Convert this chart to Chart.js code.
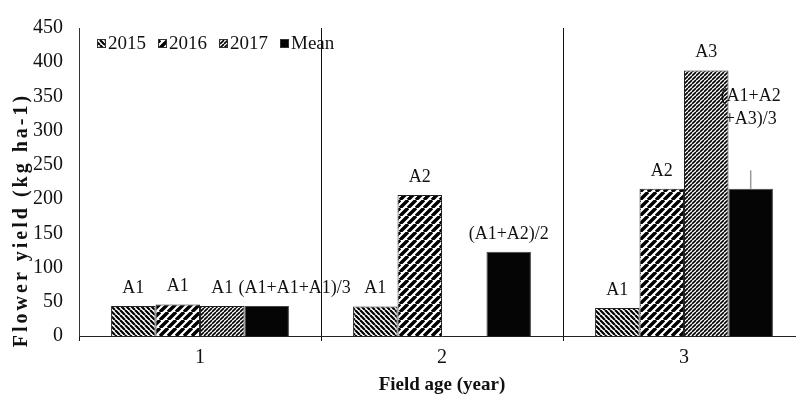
<html>
<head>
  <title>Flower yield by field age</title>
  <script src="https://cdn.jsdelivr.net/npm/chart.js@4.4.0/dist/chart.umd.min.js"></script>
  <style>
    body { margin: 0; background: #fff; overflow: hidden; }
    #wrap { width: 796px; height: 395px; overflow: hidden; }
  </style>
</head>
<body>
<div id="wrap"><canvas id="yieldChart" width="805" height="395"></canvas></div>
<script>
// data
const fieldAges  = ['1', '2', '3'];
const seriesNames = ['2015', '2016', '2017', 'Mean'];
const yield2015  = [44, 43, 41];
const yield2016  = [46, 206, 215];
const yield2017  = [44, null, 388];
const yieldMean  = [44, 123, 215];
const meanError  = [null, null, 27];
const labels2015 = ['A1', 'A1', 'A1'];
const labels2016 = ['A1', 'A2', 'A2'];
const labels2017 = ['A1', '', 'A3'];
const labelsMean = ['(A1+A1+A1)/3', '(A1+A2)/2', '(A1+A2\n+A3)/3'];
const yTicks = [0, 50, 100, 150, 200, 250, 300, 350, 400, 450];
const yTitle = 'Flower yield (kg ha-1)';

const serif = '"Liberation Serif", "Times New Roman", serif';

// hatch fills
function stripes(dir, period, lw) {
  const c = document.createElement('canvas');
  c.width = period; c.height = period;
  const g = c.getContext('2d');
  g.fillStyle = '#fff';
  g.fillRect(0, 0, period, period);
  g.strokeStyle = '#000';
  g.lineWidth = lw;
  g.beginPath();
  for (let k = -1; k <= 1; k++) {
    if (dir === '/') { g.moveTo(k * period, period); g.lineTo(k * period + period, 0); }
    else { g.moveTo(k * period, 0); g.lineTo(k * period + period, period); }
  }
  g.stroke();
  return g.createPattern(c, 'repeat');
}
const fill2015 = stripes('\\', 5, 2.2);
const fill2016 = stripes('/', 8, 3.4);
const fill2017 = stripes('/', 4, 1.6);

// text above the bars
const barLabels = {
  id: 'barLabels',
  afterDatasetsDraw(chart) {
    const ctx = chart.ctx;
    ctx.save();
    ctx.font = '18px ' + serif;
    ctx.fillStyle = '#111';
    ctx.textAlign = 'center';
    ctx.textBaseline = 'middle';
    chart.data.datasets.forEach((ds, di) => {
      const meta = chart.getDatasetMeta(di);
      meta.data.forEach((bar, i) => {
        const txt = ds.barText[i];
        if (!txt) return;
        let dx = 0, dy = 0;
        if (di === 3 && i === 0) dx = 28;
        if (di === 3 && i === 2) dy = -52;
        const lines = txt.split('\n');
        lines.forEach((ln, li) => {
          const y = bar.y - 18 + dy - (lines.length - 1 - li) * 23;
          ctx.fillText(ln, bar.x + dx, y);
        });
      });
    });
    ctx.restore();
  }
};

// upper error whisker on the mean
const errorBars = {
  id: 'errorBars',
  afterDatasetsDraw(chart) {
    const ctx = chart.ctx;
    const y = chart.scales.y;
    const meta = chart.getDatasetMeta(3);
    ctx.save();
    ctx.strokeStyle = '#999';
    ctx.lineWidth = 1.5;
    meta.data.forEach((bar, i) => {
      if (meanError[i] == null) return;
      ctx.beginPath();
      ctx.moveTo(bar.x, bar.y);
      ctx.lineTo(bar.x, y.getPixelForValue(yieldMean[i] + meanError[i]));
      ctx.stroke();
    });
    ctx.restore();
  }
};

// legend inside the plot, top left; y title drawn here too
const topLegend = {
  id: 'topLegend',
  afterDraw(chart) {
    const ctx = chart.ctx;
    const area = chart.chartArea;
    let x = area.left + 18;
    const y = area.top + 16;
    ctx.save();
    ctx.font = '19px ' + serif;
    ctx.textBaseline = 'middle';
    chart.data.datasets.forEach(ds => {
      ctx.fillStyle = ds.backgroundColor;
      ctx.fillRect(x, y - 5, 9, 9);
      ctx.strokeStyle = '#333';
      ctx.lineWidth = 1;
      ctx.strokeRect(x + 0.5, y - 4.5, 8, 8);
      ctx.fillStyle = '#111';
      ctx.fillText(ds.label, x + 11, y);
      x += 11 + ctx.measureText(ds.label).width + 12;
    });
    ctx.restore();

    ctx.save();
    ctx.translate(22, 220);
    ctx.rotate(-Math.PI / 2);
    ctx.font = 'bold 20px ' + serif;
    ctx.letterSpacing = '3px';
    ctx.fillStyle = '#111';
    ctx.textAlign = 'center';
    ctx.textBaseline = 'middle';
    ctx.fillText(yTitle, 0, 0);
    ctx.restore();
  }
};

const ctx = document.getElementById('yieldChart').getContext('2d');
new Chart(ctx, {
  type: 'bar',
  data: {
    labels: fieldAges,
    datasets: [
      { label: seriesNames[0], data: yield2015, barText: labels2015, backgroundColor: fill2015, borderColor: '#222', borderWidth: 1 },
      { label: seriesNames[1], data: yield2016, barText: labels2016, backgroundColor: fill2016, borderColor: '#222', borderWidth: 1 },
      { label: seriesNames[2], data: yield2017, barText: labels2017, backgroundColor: fill2017, borderColor: '#222', borderWidth: 1 },
      { label: seriesNames[3], data: yieldMean, barText: labelsMean, backgroundColor: '#050505', borderColor: '#444', borderWidth: 1 }
    ]
  },
  options: {
    responsive: false,
    animation: false,
    layout: { padding: { top: 22, right: 0, left: 0, bottom: 0 } },
    datasets: { bar: { barPercentage: 1, categoryPercentage: 0.735 } },
    plugins: {
      legend: { display: false },
      tooltip: { enabled: false }
    },
    scales: {
      x: {
        offset: true,
        grid: { offset: true, color: '#111', lineWidth: 1, tickLength: 5 },
        border: { color: '#222' },
        ticks: { color: '#111', font: { family: serif, size: 20 }, padding: 5 },
        title: { display: true, text: 'Field age (year)', color: '#111', padding: 0,
                 font: { family: serif, size: 19, weight: 'bold', lineHeight: 1 } },
        afterFit(scale) { scale.height = 59; }
      },
      y: {
        min: 0, max: 450,
        afterBuildTicks(scale) { scale.ticks = yTicks.map(v => ({ value: v })); },
        grid: { display: false, drawTicks: false },
        border: { color: '#333' },
        ticks: { color: '#111', font: { family: serif, size: 20 }, padding: 16 },
        afterFit(scale) { scale.width = 79; }
      }
    }
  },
  plugins: [barLabels, errorBars, topLegend]
});
</script>
</body>
</html>
